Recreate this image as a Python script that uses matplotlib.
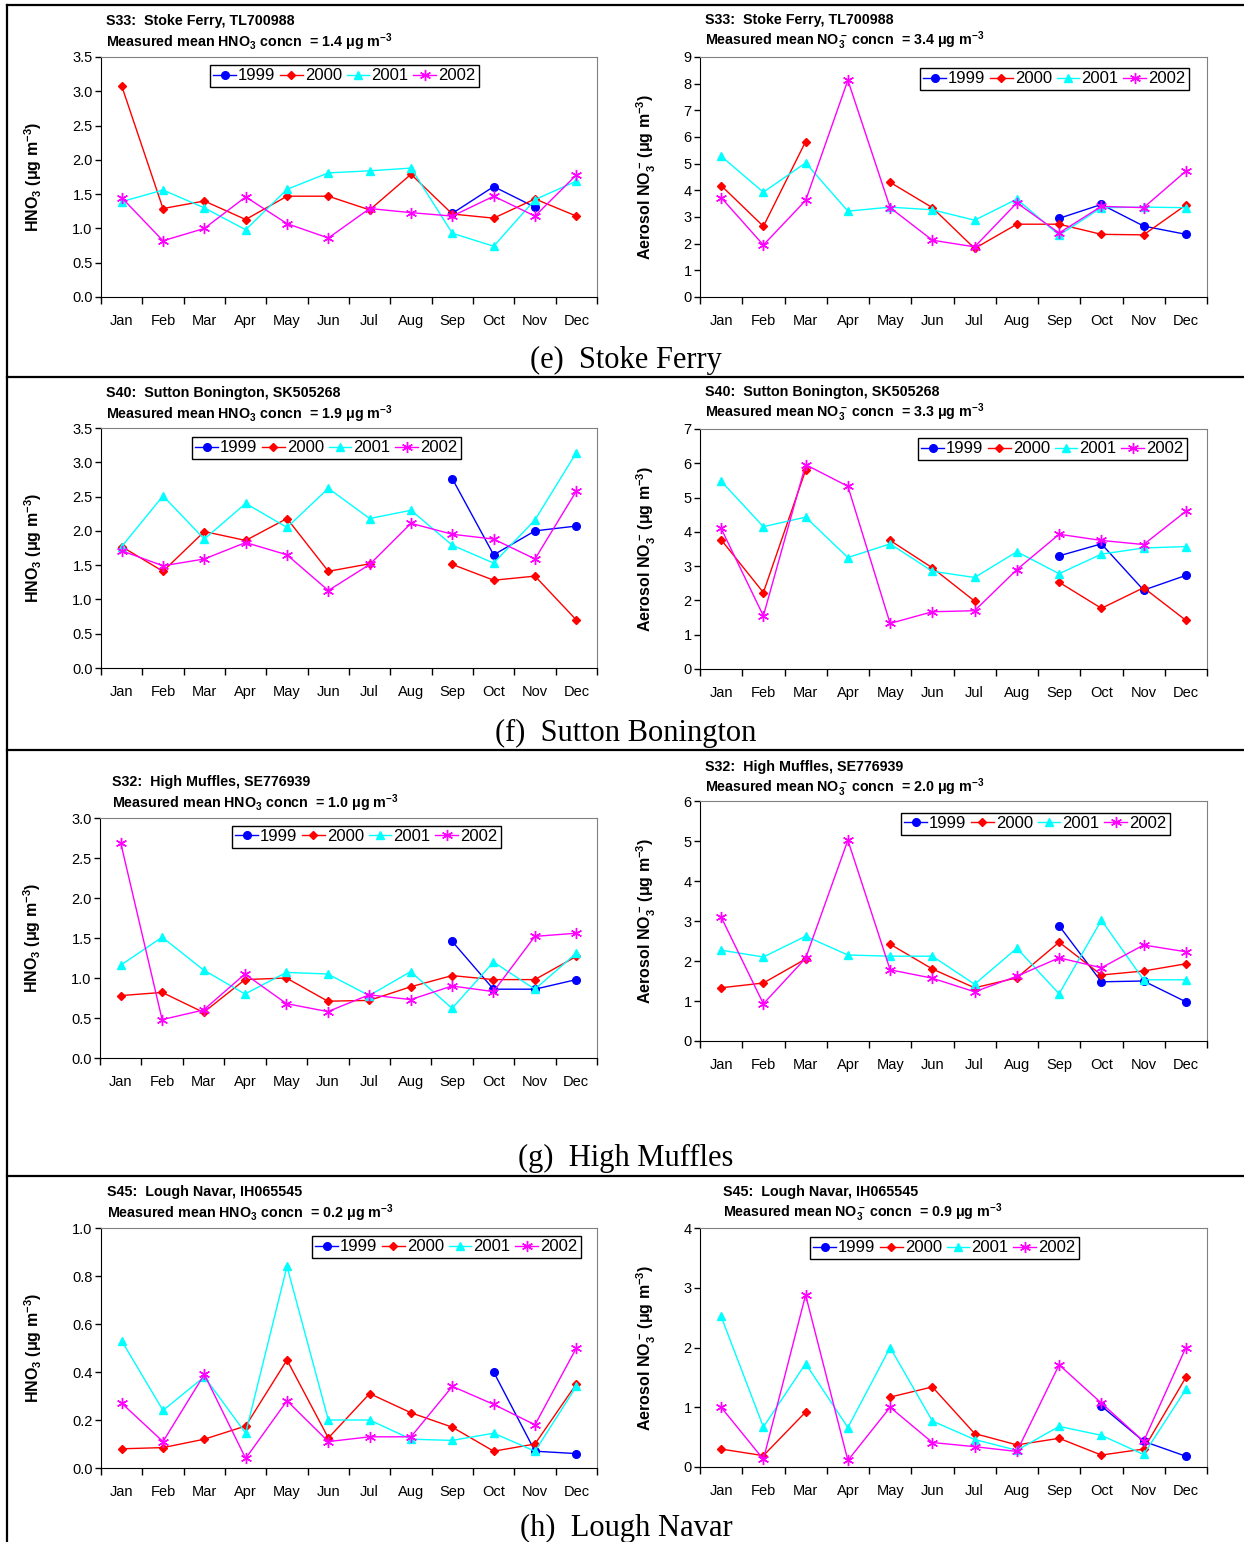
import matplotlib
matplotlib.use('Agg')
import matplotlib.pyplot as plt
import numpy as np
from matplotlib.lines import Line2D

plt.rcParams['font.family'] = ['Liberation Sans', 'DejaVu Sans']
plt.rcParams['mathtext.fontset'] = 'custom'
plt.rcParams['mathtext.rm'] = 'Liberation Sans'
plt.rcParams['mathtext.bf'] = 'Liberation Sans:bold'
plt.rcParams['mathtext.it'] = 'Liberation Sans:italic'

nan = np.nan
months = ['Jan', 'Feb', 'Mar', 'Apr', 'May', 'Jun', 'Jul', 'Aug', 'Sep', 'Oct', 'Nov', 'Dec']
years = ['1999', '2000', '2001', '2002']

# (e) Stoke Ferry
stoke_hno3_1999 = [nan, nan, nan, nan, nan, nan, nan, nan, 1.22, 1.61, 1.31, nan]
stoke_hno3_2000 = [3.08, 1.29, 1.40, 1.13, 1.47, 1.47, 1.27, 1.79, 1.21, 1.15, 1.43, 1.18]
stoke_hno3_2001 = [1.39, 1.56, 1.30, 0.98, 1.57, 1.81, 1.84, 1.88, 0.93, 0.74, 1.42, 1.69]
stoke_hno3_2002 = [1.45, 0.82, 1.00, 1.46, 1.07, 0.86, 1.29, 1.23, 1.18, 1.47, 1.18, 1.78]
stoke_no3_1999 = [nan, nan, nan, nan, nan, nan, nan, nan, 2.95, 3.47, 2.66, 2.35]
stoke_no3_2000 = [4.18, 2.65, 5.83, nan, 4.30, 3.35, 1.82, 2.73, 2.73, 2.35, 2.33, 3.45]
stoke_no3_2001 = [5.28, 3.93, 5.03, 3.22, 3.37, 3.27, 2.88, 3.67, 2.32, 3.35, 3.37, 3.35]
stoke_no3_2002 = [3.73, 1.95, 3.62, 8.13, 3.35, 2.13, 1.88, 3.53, 2.40, 3.40, 3.35, 4.72]

# (f) Sutton Bonington
sutton_hno3_1999 = [nan, nan, nan, nan, nan, nan, nan, nan, 2.76, 1.65, 2.00, 2.07]
sutton_hno3_2000 = [1.77, 1.41, 1.99, 1.86, 2.18, 1.41, 1.52, nan, 1.51, 1.28, 1.34, 0.70]
sutton_hno3_2001 = [1.77, 2.51, 1.88, 2.40, 2.05, 2.62, 2.18, 2.30, 1.79, 1.53, 2.16, 3.14]
sutton_hno3_2002 = [1.71, 1.49, 1.59, 1.83, 1.65, 1.13, 1.51, 2.11, 1.95, 1.88, 1.59, 2.58]
sutton_no3_1999 = [nan, nan, nan, nan, nan, nan, nan, nan, 3.30, 3.65, 2.30, 2.73]
sutton_no3_2000 = [3.77, 2.23, 5.80, nan, 3.75, 2.95, 1.98, nan, 2.53, 1.77, 2.37, 1.42]
sutton_no3_2001 = [5.48, 4.15, 4.43, 3.25, 3.65, 2.85, 2.67, 3.42, 2.78, 3.35, 3.53, 3.57]
sutton_no3_2002 = [4.10, 1.55, 5.96, 5.33, 1.33, 1.67, 1.70, 2.90, 3.93, 3.75, 3.63, 4.60]

# (g) High Muffles
muffles_hno3_1999 = [nan, nan, nan, nan, nan, nan, nan, nan, 1.46, 0.86, 0.86, 0.98]
muffles_hno3_2000 = [0.78, 0.82, 0.57, 0.98, 1.00, 0.71, 0.72, 0.89, 1.03, 0.98, 0.98, 1.27]
muffles_hno3_2001 = [1.16, 1.51, 1.10, 0.80, 1.07, 1.05, 0.78, 1.08, 0.62, 1.20, 0.86, 1.31]
muffles_hno3_2002 = [2.69, 0.48, 0.60, 1.05, 0.68, 0.58, 0.79, 0.73, 0.90, 0.83, 1.52, 1.56]
muffles_no3_1999 = [nan, nan, nan, nan, nan, nan, nan, nan, 2.88, 1.48, 1.50, 0.98]
muffles_no3_2000 = [1.33, 1.45, 2.05, nan, 2.42, 1.80, 1.33, 1.58, 2.47, 1.65, 1.75, 1.93]
muffles_no3_2001 = [2.27, 2.10, 2.62, 2.15, 2.12, 2.12, 1.42, 2.32, 1.18, 3.02, 1.53, 1.53]
muffles_no3_2002 = [3.10, 0.93, 2.07, 5.02, 1.78, 1.57, 1.23, 1.62, 2.08, 1.83, 2.40, 2.23]

# (h) Lough Navar
navar_hno3_1999 = [nan, nan, nan, nan, nan, nan, nan, nan, nan, 0.40, 0.07, 0.06]
navar_hno3_2000 = [0.08, 0.085, 0.12, 0.175, 0.45, 0.125, 0.31, 0.23, 0.17, 0.07, 0.10, 0.35]
navar_hno3_2001 = [0.53, 0.24, 0.38, 0.145, 0.84, 0.20, 0.20, 0.12, 0.115, 0.145, 0.07, 0.34]
navar_hno3_2002 = [0.27, 0.11, 0.39, 0.04, 0.28, 0.11, 0.13, 0.13, 0.34, 0.265, 0.18, 0.50]
navar_no3_1999 = [nan, nan, nan, nan, nan, nan, nan, nan, nan, 1.02, 0.43, 0.18]
navar_no3_2000 = [0.30, 0.19, 0.92, nan, 1.17, 1.34, 0.56, 0.37, 0.48, 0.20, 0.30, 1.50]
navar_no3_2001 = [2.52, 0.67, 1.73, 0.66, 2.00, 0.77, 0.46, 0.28, 0.68, 0.53, 0.21, 1.30]
navar_no3_2002 = [1.00, 0.13, 2.88, 0.11, 1.00, 0.41, 0.34, 0.26, 1.71, 1.07, 0.43, 2.00]

captions = ['(e)  Stoke Ferry', '(f)  Sutton Bonington', '(g)  High Muffles', '(h)  Lough Navar']

W, H = 1244, 1542
fig = plt.figure(figsize=(W / 100, H / 100), dpi=100)

styles = [
    dict(color='#0000FF', marker='o', ms=5.5),
    dict(color='#FF0000', marker='D', ms=4.2),
    dict(color='#00FFFF', marker='^', ms=6),
    dict(color='#FF00FF', marker=(6, 2, 0), ms=8, mew=1),
]

# box = (left, right, top, bottom) in pixels
panels = [
    dict(box=(101, 597, 57, 297), ymax=3.5, ystep=0.5, fmt='%.1f', kind='hno3',
         site='S33:  Stoke Ferry, TL700988', mean='1.4', title=(106, 21), leg=(210, 65),
         data=[stoke_hno3_1999, stoke_hno3_2000, stoke_hno3_2001, stoke_hno3_2002]),
    dict(box=(700, 1207, 57, 297), ymax=9, ystep=1, fmt='%d', kind='no3',
         site='S33:  Stoke Ferry, TL700988', mean='3.4', title=(705, 20), leg=(920, 68),
         data=[stoke_no3_1999, stoke_no3_2000, stoke_no3_2001, stoke_no3_2002]),
    dict(box=(101, 597, 428, 668), ymax=3.5, ystep=0.5, fmt='%.1f', kind='hno3',
         site='S40:  Sutton Bonington, SK505268', mean='1.9', title=(106, 393), leg=(192, 437),
         data=[sutton_hno3_1999, sutton_hno3_2000, sutton_hno3_2001, sutton_hno3_2002]),
    dict(box=(700, 1207, 429, 669), ymax=7, ystep=1, fmt='%d', kind='no3',
         site='S40:  Sutton Bonington, SK505268', mean='3.3', title=(705, 392), leg=(918, 438),
         data=[sutton_no3_1999, sutton_no3_2000, sutton_no3_2001, sutton_no3_2002]),
    dict(box=(100, 597, 818, 1058), ymax=3.0, ystep=0.5, fmt='%.1f', kind='hno3',
         site='S32:  High Muffles, SE776939', mean='1.0', title=(112, 782), leg=(232, 826),
         data=[muffles_hno3_1999, muffles_hno3_2000, muffles_hno3_2001, muffles_hno3_2002]),
    dict(box=(700, 1207, 801, 1041), ymax=6, ystep=1, fmt='%d', kind='no3',
         site='S32:  High Muffles, SE776939', mean='2.0', title=(705, 767), leg=(901, 813),
         data=[muffles_no3_1999, muffles_no3_2000, muffles_no3_2001, muffles_no3_2002]),
    dict(box=(101, 597, 1228, 1468), ymax=1.0, ystep=0.2, fmt='%.1f', kind='hno3',
         site='S45:  Lough Navar, IH065545', mean='0.2', title=(107, 1192), leg=(312, 1236),
         data=[navar_hno3_1999, navar_hno3_2000, navar_hno3_2001, navar_hno3_2002]),
    dict(box=(700, 1207, 1228, 1467), ymax=4, ystep=1, fmt='%d', kind='no3',
         site='S45:  Lough Navar, IH065545', mean='0.9', title=(723, 1192), leg=(810, 1237),
         data=[navar_no3_1999, navar_no3_2000, navar_no3_2001, navar_no3_2002]),
]

x = np.arange(12)
for p in panels:
    l, r, t, b = p['box']
    ax = fig.add_axes([l / W, 1 - b / H, (r - l) / W, (b - t) / H])
    lines = []
    for vals, yr, st in zip(p['data'], years, styles):
        ln, = ax.plot(x, vals, lw=1, label=yr, **st)
        lines.append(ln)
    ax.set_xlim(-0.5, 11.5)
    ax.set_ylim(0, p['ymax'])
    yt = np.arange(0, p['ymax'] + p['ystep'] / 2, p['ystep'])
    ax.set_yticks(yt, [p['fmt'] % v for v in yt])
    ax.set_xticks(np.arange(-0.5, 12, 1), [''] * 13)
    ax.set_xticks(x, months, minor=True)
    ax.tick_params(axis='x', which='major', length=5, direction='out', width=1)
    ax.tick_params(axis='x', which='minor', length=0, pad=12, labelsize=10.5)
    ax.tick_params(axis='y', length=4, width=1, pad=2, labelsize=10.5)
    for s in ('top', 'right'):
        ax.spines[s].set_color('#808080')
    for s in ('left', 'bottom'):
        ax.spines[s].set_color('black')

    if p['kind'] == 'hno3':
        ax.set_ylabel(r'HNO$_\mathbf{3}$ ($\mathbf{\mu}$g m$^\mathbf{-3}$)', fontsize=11.5, fontweight='bold')
        ax.yaxis.set_label_coords(-0.115, 0.5)
        line2 = r'Measured mean HNO$_\mathbf{3}$ concn  = ' + p['mean'] + r' $\mathbf{\mu}$g m$^\mathbf{-3}$'
    else:
        ax.set_ylabel(r'Aerosol NO$_\mathbf{3}^{\ \mathbf{-}}$ ($\mathbf{\mu}$g m$^\mathbf{-3}$)', fontsize=11.5, fontweight='bold')
        ax.yaxis.set_label_coords(-0.083, 0.5)
        line2 = r'Measured mean NO$_\mathbf{3}^{\ \mathbf{-}}$ concn  = ' + p['mean'] + r' $\mathbf{\mu}$g m$^\mathbf{-3}$'

    tx, ty = p['title']
    fig.text(tx / W, 1 - ty / H, p['site'], fontsize=10.3, fontweight='bold', va='center', ha='left')
    fig.text(tx / W, 1 - (ty + 21) / H, line2, fontsize=10.3, fontweight='bold', va='center', ha='left')

    lx, ly = p['leg']
    leg = ax.legend(handles=lines, ncol=4, loc='upper left', bbox_to_anchor=(lx / W, 1 - ly / H),
                    bbox_transform=fig.transFigure, borderaxespad=0, fontsize=12, frameon=True,
                    fancybox=False, edgecolor='black', framealpha=1, handlelength=1.35,
                    handletextpad=0.12, columnspacing=0.3, borderpad=0.2)
    leg.get_frame().set_linewidth(1)

# captions
cap_y = [360, 733, 1158, 1528]
for cap, cy in zip(captions, cap_y):
    fig.text(626 / W, 1 - cy / H, cap, fontsize=22, family=['Liberation Serif', 'DejaVu Serif'],
             ha='center', va='center')

# frame lines
for yy in (5, 377, 750, 1176):
    fig.add_artist(Line2D([7 / W, 1], [1 - yy / H, 1 - yy / H], color='black', lw=1.6,
                          transform=fig.transFigure))
fig.add_artist(Line2D([7 / W, 7 / W], [1 - 5 / H, 0], color='black', lw=1.6, transform=fig.transFigure))

fig.savefig('out.png', dpi=100)
